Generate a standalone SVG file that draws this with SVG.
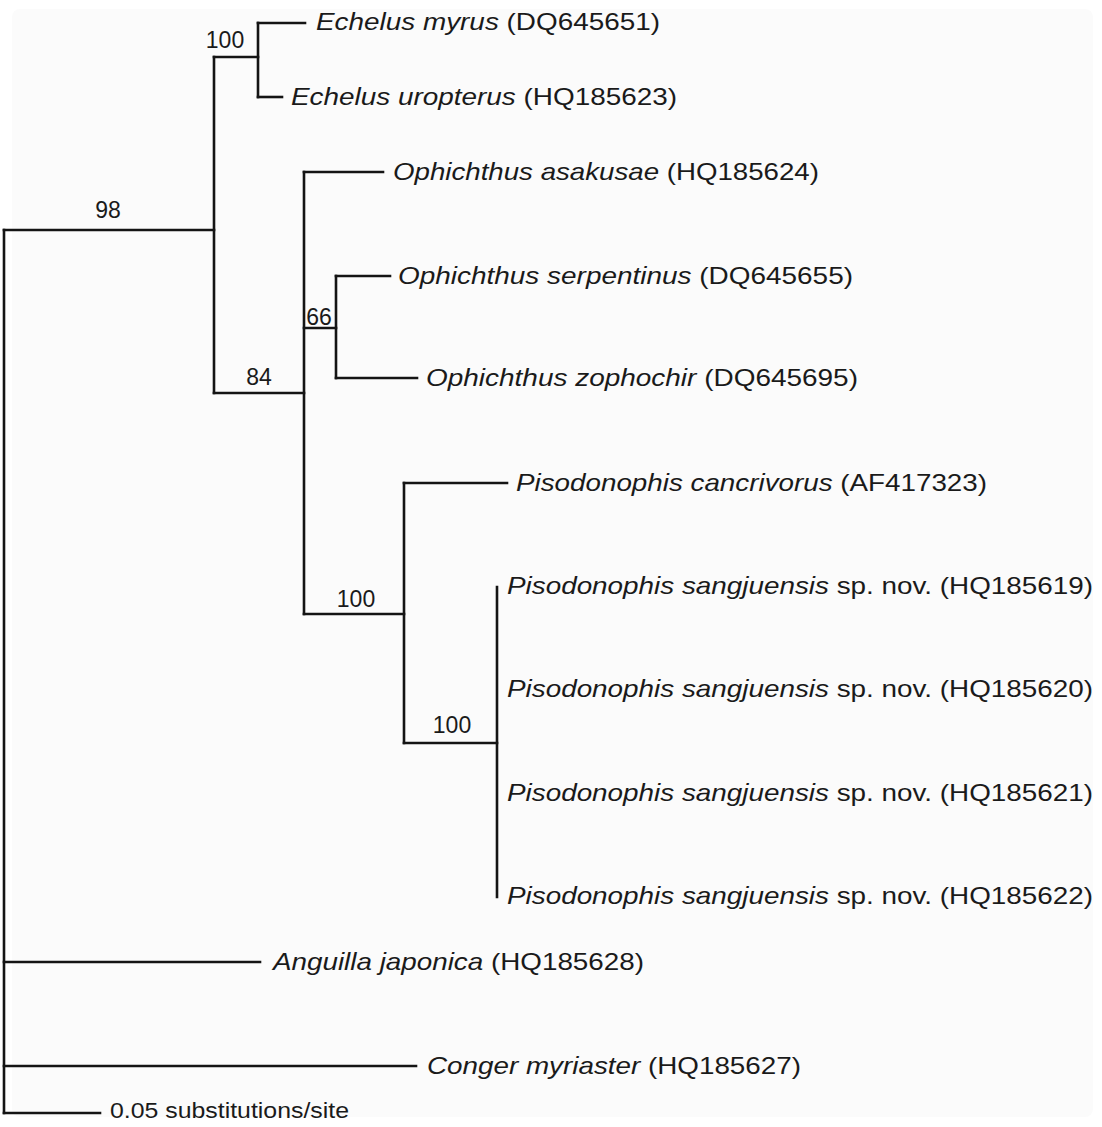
<svg xmlns="http://www.w3.org/2000/svg" width="1102" height="1127" viewBox="0 0 1102 1127">
<style>
.br{stroke:#141414;stroke-width:2.6;fill:none;stroke-linecap:square}
.lb{font-family:"Liberation Sans",Arial,sans-serif;font-size:24px;fill:#1a1a1a}
.bs{font-family:"Liberation Sans",Arial,sans-serif;font-size:23px;fill:#1a1a1a;text-anchor:middle}
.it{font-style:italic}
</style>
<rect x="0" y="0" width="1102" height="1127" fill="#ffffff"/>
<rect x="12" y="9" width="1081" height="1108" rx="8" fill="#fbfbfb"/>
<g id="connectors" class="br">
<path d="M4 230 V1113"/>
<path d="M4 230 H214"/>
<path d="M214 57 V393"/>
<path d="M214 57 H258"/>
<path d="M258 23 V97"/>
<path d="M258 23 H305"/>
<path d="M258 97 H282"/>
<path d="M214 393 H304"/>
<path d="M304 172 V614"/>
<path d="M304 172 H383"/>
<path d="M304 328 H336"/>
<path d="M336 276 V378"/>
<path d="M336 276 H390"/>
<path d="M336 378 H417"/>
<path d="M304 614 H404"/>
<path d="M404 483 V743"/>
<path d="M404 483 H507"/>
<path d="M404 743 H497"/>
<path d="M497 587 V897"/>
<path d="M4 962 H260"/>
<path d="M4 1066 H416"/>
<path d="M4 1113 H100"/>
</g>
<g id="node-echelus-clade"><text class="bs" x="225" y="48">100</text></g>
<g id="node-root-98"><text class="bs" x="108" y="218">98</text></g>
<g id="node-84"><text class="bs" x="259" y="385">84</text></g>
<g id="node-66"><text class="bs" x="319" y="325">66</text></g>
<g id="node-pisodonophis"><text class="bs" x="356" y="607">100</text></g>
<g id="node-sangjuensis"><text class="bs" x="452" y="733">100</text></g>
<g id="leaf-echelus-myrus"><text class="lb" x="316" y="30" textLength="344" lengthAdjust="spacingAndGlyphs"><tspan class="it">Echelus myrus</tspan> (DQ645651)</text></g>
<g id="leaf-echelus-uropterus"><text class="lb" x="291" y="105" textLength="386" lengthAdjust="spacingAndGlyphs"><tspan class="it">Echelus uropterus</tspan> (HQ185623)</text></g>
<g id="leaf-ophichthus-asakusae"><text class="lb" x="393" y="180" textLength="426" lengthAdjust="spacingAndGlyphs"><tspan class="it">Ophichthus asakusae</tspan> (HQ185624)</text></g>
<g id="leaf-ophichthus-serpentinus"><text class="lb" x="398" y="284" textLength="455" lengthAdjust="spacingAndGlyphs"><tspan class="it">Ophichthus serpentinus</tspan>  (DQ645655)</text></g>
<g id="leaf-ophichthus-zophochir"><text class="lb" x="426" y="386" textLength="432" lengthAdjust="spacingAndGlyphs"><tspan class="it">Ophichthus zophochir</tspan>  (DQ645695)</text></g>
<g id="leaf-pisodonophis-cancrivorus"><text class="lb" x="516" y="491" textLength="471" lengthAdjust="spacingAndGlyphs"><tspan class="it">Pisodonophis cancrivorus</tspan> (AF417323)</text></g>
<g id="leaf-hq185619"><text class="lb" x="507" y="594" textLength="586" lengthAdjust="spacingAndGlyphs"><tspan class="it">Pisodonophis sangjuensis</tspan> sp. nov. (HQ185619)</text></g>
<g id="leaf-hq185620"><text class="lb" x="507" y="697" textLength="586" lengthAdjust="spacingAndGlyphs"><tspan class="it">Pisodonophis sangjuensis</tspan> sp. nov. (HQ185620)</text></g>
<g id="leaf-hq185621"><text class="lb" x="507" y="801" textLength="586" lengthAdjust="spacingAndGlyphs"><tspan class="it">Pisodonophis sangjuensis</tspan> sp. nov. (HQ185621)</text></g>
<g id="leaf-hq185622"><text class="lb" x="507" y="904" textLength="586" lengthAdjust="spacingAndGlyphs"><tspan class="it">Pisodonophis sangjuensis</tspan> sp. nov. (HQ185622)</text></g>
<g id="leaf-anguilla-japonica"><text class="lb" x="273" y="970" textLength="371" lengthAdjust="spacingAndGlyphs"><tspan class="it">Anguilla japonica</tspan> (HQ185628)</text></g>
<g id="leaf-conger-myriaster"><text class="lb" x="427" y="1074" textLength="374" lengthAdjust="spacingAndGlyphs"><tspan class="it">Conger myriaster</tspan> (HQ185627)</text></g>
<g id="scale-bar"><text class="lb" x="110" y="1118" textLength="239" lengthAdjust="spacingAndGlyphs" style="font-size:22px">0.05 substitutions/site</text></g>
</svg>
